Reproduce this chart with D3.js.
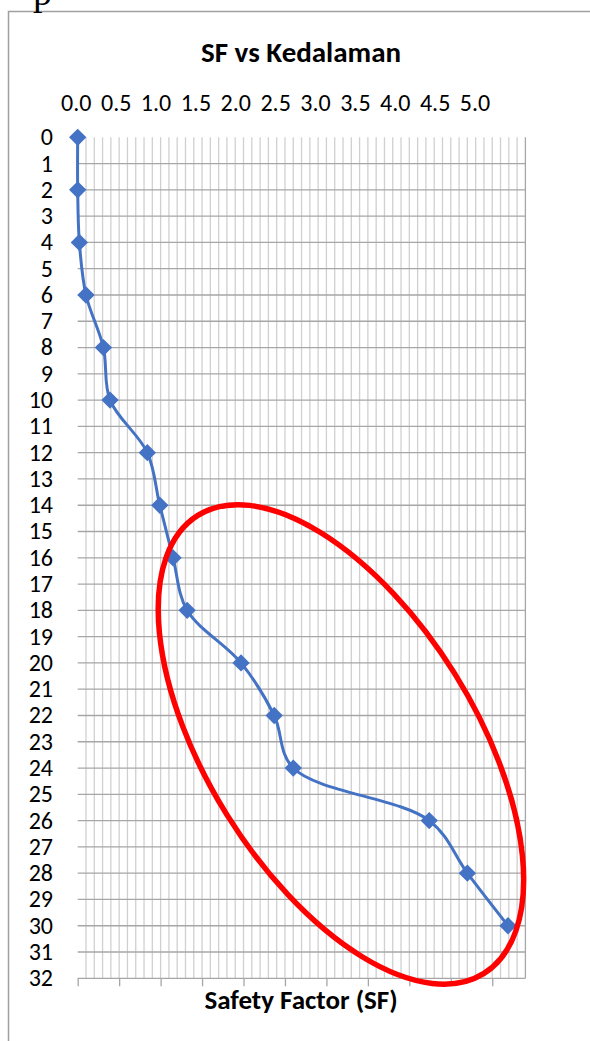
<!DOCTYPE html>
<html>
<head>
<meta charset="utf-8">
<script src="https://cdn.jsdelivr.net/npm/d3@7"></script>
<style>
body{margin:0;background:#fff;overflow:hidden;}
text{font-family:Carlito,Calibri,Lato,sans-serif;fill:#000;}
</style>
</head>
<body>
<svg id="chart"></svg>
<script>
// depth (m) and safety factor
const depths = [0, 2, 4, 6, 8, 10, 12, 14, 16, 18, 20, 22, 24, 26, 28, 30];
const sfValues = [0.0, 0.0, 0.02, 0.10, 0.31, 0.39, 0.84, 0.99, 1.15, 1.32, 1.97, 2.37, 2.60, 4.24, 4.70, 5.19];

const sfTicks = [0.0, 0.5, 1.0, 1.5, 2.0, 2.5, 3.0, 3.5, 4.0, 4.5, 5.0];
const depthTicks = [0,1,2,3,4,5,6,7,8,9,10,11,12,13,14,15,16,17,18,19,20,21,22,23,24,25,26,27,28,29,30,31,32];

const chartTitle = 'SF vs Kedalaman';
const xTitle = 'Safety Factor (SF)';

let width = 590, height = 1041;
let pLeft = 77.7, pRight = 525.4, pTop = 137.3, pBottom = 978.3;

let svg = d3.select('#chart').attr('width', width).attr('height', height);

let x = d3.scaleLinear().domain([0, 5.4]).range([pLeft, pRight]);
let y = d3.scaleLinear().domain([0, 32]).range([pTop, pBottom]);
// excel squeezes the top labels a little, they don't sit on the ticks
let xLabel = d3.scaleLinear().domain([0, 5]).range([76.3, 475]);

// chart frame + stray letter from the page
svg.append('path')
    .attr('d', `M8.5,${height} V11.5 H${width}`)
    .attr('fill', 'none').attr('stroke', '#a0a0a0').attr('stroke-width', 1.5);
svg.append('text').attr('x', 33).attr('y', 4.5)
    .style('font-family', '"Liberation Serif",serif').style('font-size', '38px').text('p');

// vertical minor gridlines every 0.1
svg.append('g')
    .selectAll('line')
    .data(d3.range(1, 54).map(d => d / 10))
    .enter().append('line')
    .attr('x1', d => x(d)).attr('x2', d => x(d))
    .attr('y1', pTop).attr('y2', pBottom)
    .attr('stroke', '#d0d0d0').attr('stroke-width', 1.3);

svg.append('line')
    .attr('x1', x(5.4)).attr('x2', x(5.4)).attr('y1', pTop).attr('y2', pBottom)
    .attr('stroke', '#a6a6a6').attr('stroke-width', 1.3);

// horizontal gridlines
svg.append('g')
    .selectAll('line')
    .data(depthTicks.filter(d => d > 0 && d < 32))
    .enter().append('line')
    .attr('x1', pLeft).attr('x2', pRight)
    .attr('y1', d => y(d)).attr('y2', d => y(d))
    .attr('stroke', '#a6a6a6').attr('stroke-width', 1.3);

// bottom axis line with tick marks
let xAxis = svg.append('g')
    .attr('transform', `translate(0,${pBottom})`)
    .call(d3.axisBottom(x).tickValues(sfTicks).tickSize(8).tickFormat(''));
xAxis.select('.domain').attr('stroke', '#a6a6a6').attr('stroke-width', 1.3)
    .attr('d', `M${pLeft},0H${pRight}`);
xAxis.selectAll('.tick line').attr('stroke', '#a6a6a6').attr('stroke-width', 1.3);

// top labels
svg.append('g')
    .selectAll('text')
    .data(sfTicks)
    .enter().append('text')
    .attr('x', d => xLabel(d)).attr('y', 111)
    .attr('text-anchor', 'middle')
    .style('font-size', '24px')
    .text(d => d.toFixed(1));

// depth labels
svg.append('g')
    .selectAll('text')
    .data(depthTicks)
    .enter().append('text')
    .attr('x', 53).attr('y', d => y(d))
    .attr('dy', '0.33em')
    .attr('text-anchor', 'end')
    .style('font-size', '24px')
    .text(d => d);

// titles
svg.append('text').attr('x', 301).attr('y', 62)
    .attr('text-anchor', 'middle')
    .style('font-size', '29px').style('font-weight', 'bold')
    .text(chartTitle);
svg.append('text').attr('x', 301).attr('y', 1009)
    .attr('text-anchor', 'middle')
    .style('font-size', '27px').style('font-weight', 'bold')
    .text(xTitle);

// series
let points = depths.map((d, i) => ({depth: d, sf: sfValues[i]}));
let line = d3.line()
    .x(d => x(d.sf)).y(d => y(d.depth))
    .curve(d3.curveCatmullRom.alpha(0.5));

svg.append('path')
    .datum(points)
    .attr('d', line)
    .attr('fill', 'none')
    .attr('stroke', '#4472C4')
    .attr('stroke-width', 3);

svg.append('g')
    .selectAll('path')
    .data(points)
    .enter().append('path')
    .attr('d', d3.symbol().type(d3.symbolSquare).size(150))
    .attr('transform', d => `translate(${x(d.sf)},${y(d.depth)}) rotate(45)`)
    .attr('fill', '#4472C4');

// red ellipse drawn over the chart, centred in data units
let ring = {sf: 3.175, depth: 23.1, rx: 270, ry: 134, angle: 58};
svg.append('ellipse')
    .attr('cx', 0).attr('cy', 0)
    .attr('rx', ring.rx).attr('ry', ring.ry)
    .attr('transform', `translate(${x(ring.sf)},${y(ring.depth)}) rotate(${ring.angle})`)
    .attr('fill', 'none')
    .attr('stroke', '#ff0000')
    .attr('stroke-width', 5.5);
</script>
</body>
</html>
